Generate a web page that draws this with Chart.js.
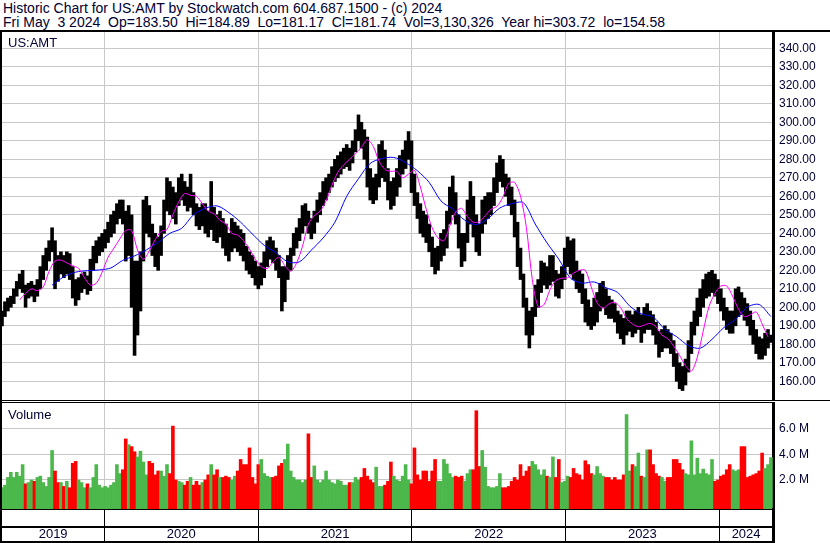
<!DOCTYPE html>
<html>
<head>
<meta charset="utf-8">
<title>Historic Chart for US:AMT</title>
<script src="https://cdn.jsdelivr.net/npm/chart.js@4.4.1/dist/chart.umd.min.js"></script>
<style>
  body { margin: 0; background: #fff; }
  #wrap { position: relative; width: 830px; height: 543px; overflow: hidden; background: #fff;
          font-family: "Liberation Sans", Arial, sans-serif; color: #000033; }
  canvas { position: absolute; left: 0; }
  #price { top: 32px; }
  #volume { top: 403px; }
  .txt { position: absolute; white-space: pre; }
  .hdr { left: 3px; font-size: 14px; line-height: 14px; }
  .lbl { left: 8px; font-size: 13px; line-height: 13px; }
  .ln { position: absolute; background: #000; z-index: 2; }
</style>
</head>
<body>
<div id="wrap">
  <div class="txt hdr" style="top:1px">Historic Chart for US:AMT by Stockwatch.com 604.687.1500 - (c) 2024</div>
  <div class="txt hdr" style="top:15px">Fri May  3 2024  Op=183.50  Hi=184.89  Lo=181.17  Cl=181.74  Vol=3,130,326  Year hi=303.72  lo=154.58</div>

  <canvas id="price" width="830" height="368"></canvas>
  <canvas id="volume" width="830" height="139"></canvas>

  <div class="txt lbl" style="top:36px; z-index:3">US:AMT</div>
  <div class="txt lbl" style="top:408px; z-index:3">Volume</div>

  <!-- frame lines -->
  <div class="ln" style="left:0; top:30px; width:830px; height:2px"></div>
  <div class="ln" style="left:0; top:30px; width:2px; height:512px"></div>
  <div class="ln" style="left:0; top:400px; width:830px; height:1px"></div>
  <div class="ln" style="left:0; top:402px; width:775px; height:1px"></div>
  <div class="ln" style="left:0; top:526px; width:775px; height:2px"></div>
  <div class="ln" style="left:0; top:541px; width:775px; height:2px"></div>
  <div class="ln" style="left:772px; top:508px; width:3px; height:35px"></div>
</div>

<script>
// weekly data, week 0 = Fri May 3 2019
const startDate = Date.UTC(2019, 4, 3);
const years = [2019, 2020, 2021, 2022, 2023, 2024];
const lastWeek = 261;

const weekLow = [
  190,195,198,200,202,206,210,208,200,205, 206,203,206,210,215,220,225,230,210,214,
  218,216,218,215,205,201,204,208,210,207, 209,220,224,228,230,232,235,238,240,245,
  248,245,225,228,200,174,185,198,225,240, 238,228,222,220,228,240,252,250,248,245,
  255,258,255,252,254,250,244,242,244,240, 238,242,236,235,238,232,228,225,230,232,
  230,228,225,220,218,216,212,210,212,216, 222,226,224,220,216,198,203,215,220,228,
  232,236,240,244,240,237,240,246,250,255, 258,262,265,268,270,272,275,276,274,278,
  284,290,286,280,265,258,256,258,265,270, 268,258,253,255,260,265,272,275,280,262,
  255,248,240,238,235,230,222,218,220,225, 228,232,245,250,245,232,222,225,235,245,
  238,230,228,240,245,248,250,255,262,268, 265,260,255,250,238,222,215,200,185,178,
  185,195,200,208,212,210,212,214,206,205, 210,215,222,218,215,210,208,202,192,190,
  188,190,192,198,200,196,194,194,192,186, 183,180,185,187,184,186,188,181,186,188,
  188,185,180,173,176,178,178,175,168,160, 156,155,158,165,175,185,190,195,200,205,
  206,208,206,202,198,193,188,186,186,190, 195,196,193,190,185,180,175,172,172,174,
  178,181
];
const weekHigh = [
  198,203,205,206,210,214,218,220,212,213, 214,212,215,222,228,232,236,243,236,228,
  230,228,230,229,222,215,216,218,219,217, 226,233,236,238,240,242,246,250,252,256,
  258,258,252,255,250,225,225,230,258,260, 255,245,240,238,244,258,270,268,265,262,
  270,272,268,265,272,262,256,254,256,256, 252,268,254,250,252,248,245,240,248,246,
  244,242,240,233,230,228,225,222,224,230, 236,238,236,232,228,222,222,228,232,240,
  243,248,255,256,252,248,252,258,262,268, 270,272,276,280,282,284,286,288,286,290,
  296,304,300,296,292,275,270,272,288,290, 285,275,268,270,275,282,285,290,295,290,
  272,262,256,252,250,245,238,232,233,240, 242,252,265,271,262,250,240,240,258,268,
  260,250,245,258,260,262,262,270,278,282, 280,272,270,265,258,246,232,218,205,198,
  200,212,215,225,224,222,228,228,220,218, 222,232,238,236,237,225,220,218,210,204,
  200,205,208,213,214,210,206,204,202,198, 196,194,198,198,196,198,200,196,200,202,
  198,196,192,187,188,190,188,186,182,175, 170,168,172,182,192,198,205,210,215,218,
  219,220,218,215,210,205,200,198,198,210, 211,208,205,202,198,193,188,184,183,186,
  188,185
];

// weekly peak daily volume, millions
const volume = [
  1.4,1.6,2.2,2.6,2.2,2.6,2.3,3.2,1.7,1.8, 2.0,1.9,2.2,2.3,1.8,1.5,2.2,4.3,2.7,1.8,
  1.8,1.5,1.9,1.4,3.3,3.45,2.0,1.8,1.4,1.7, 1.4,2.2,3.2,1.6,1.4,1.5,1.4,1.6,1.8,3.2,
  2.5,2.8,5.2,4.75,4.6,4.2,3.8,4.25,3.4,2.4, 3.45,3.3,2.4,2.7,2.7,2.3,3.2,2.5,6.2,2.0,
  1.9,1.8,1.6,1.9,2.2,1.6,1.9,1.6,1.8,2.0, 2.4,3.2,2.4,2.8,2.2,2.2,2.3,2.2,2.0,2.3,
  2.7,3.6,3.2,3.2,4.5,2.2,1.7,3.2,3.6,2.5, 2.3,2.2,2.2,2.3,3.1,3.3,3.6,4.8,2.7,2.2,
  2.0,2.0,1.8,2.0,5.6,2.2,3.1,2.0,1.8,2.0, 2.7,2.0,1.8,1.7,2.0,1.9,1.6,1.6,1.8,1.8,
  2.2,2.0,2.2,2.9,2.3,2.0,1.8,3.0,1.5,1.5, 1.6,1.9,3.4,2.3,2.0,1.9,2.3,3.2,2.0,1.7,
  4.5,2.4,2.0,2.7,2.7,1.9,2.7,3.6,1.9,1.9, 3.6,3.25,2.5,2.2,2.3,2.2,2.3,1.9,2.5,2.8,
  2.8,7.4,3.05,4.3,3.0,1.5,1.4,1.4,1.5,2.5, 1.4,1.4,1.5,1.9,2.2,2.0,3.2,2.3,2.7,3.05,
  3.45,3.2,2.8,2.4,2.8,2.3,2.2,3.8,2.2,3.6, 1.8,1.9,2.3,2.2,2.9,2.5,2.4,2.0,3.5,3.2,
  2.5,2.4,3.05,2.5,2.3,2.2,2.2,2.0,2.2,2.0, 2.0,2.4,7.1,2.7,3.2,3.05,4.1,2.3,2.2,4.35,
  4.35,3.2,2.5,2.3,2.2,1.9,2.2,2.2,3.6,3.6, 3.3,2.8,2.5,2.4,5.05,2.4,3.7,2.5,2.85,2.5,
  2.4,3.6,1.9,2.0,2.3,2.4,2.8,3.2,2.8,2.7, 2.8,4.6,4.6,2.2,2.3,2.4,2.5,2.7,4.1,2.9,
  3.2,3.75
];

// short moving average (magenta), every 2 weeks from week 6
const maFastStart = 6, maFastStep = 2;
const maFast = [
  204,207.5,210,209,211,219.5,225,225.5,224,222.5, 221,216,212,213,219,227,232,237,241.5,241.5,
  231,226,230.5,236.5,241,242,250,257,261.5,260.5, 260,256,252,250.5,247,245,240,239,236,231.5,
  226,222,221,224.5,227,222.5,219.5,224,233,245, 249.5,252,257.5,266,273,277,280,283,286.5,290.5,
  287,279,274.5,273.5,273.5,270,272,274,265,253, 243,237.5,236,244,251.5,253.5,249,246,246.3,249.5,
  253,254.5,259.5,267,267.5,260,243,215,200.4,201.5, 209.5,214.5,215.7,216,218.5,220,220,211,202.5,199.5,
  201.8,202.7,199.8,194,191,189.5,190.4,191.3,189.5,185, 183,179,174,168.5,165.5,173,187,200.5,207.5,211.5,
  211.5,206,199,195,196,197.5,191,184
];
// long moving average (blue), every 4 weeks from week 17
const maSlowStart = 17, maSlowStep = 4;
const maSlow = [
  212,216.5,219,219.8,220.2,221.3,225.4,227.8,231,235.2, 240,242.7,250,253.5,254.8,251.2,246,239.6,233.5,229.5,
  224.6,224.6,230.9,237.5,246,260,269.5,277.8,280.4,281, 278.2,273.8,267.5,257.5,253,247.2,244.7,248,253.7,256,
  256.5,245,234.8,226,215.7,213.1,213.7,210.6,208,200.8, 196.5,194.8,188.1,184.1,179.3,177.9,182.7,189,193.5,200.1,
  201.5,195
];

const priceTicks = [160,170,180,190,200,210,220,230,240,250,260,270,280,290,300,310,320,330,340];
const volumeTicks = [2, 4, 6];

const FONT = '"Liberation Sans", Arial, sans-serif';
const TXT = '#000033';
const GRID = '#c8c8c8';
const xMax = lastWeek + 0.7;
const weekOf = y => (Date.UTC(y, 0, 1) - startDate) / (7 * 86400000);
const yearStarts = years.slice(1).map(weekOf);
const yearMids = years.map((y, i) => {
  const a = Math.max(0, weekOf(y));
  const b = Math.min(xMax, i < years.length - 1 ? weekOf(y + 1) : xMax);
  return (a + b) / 2;
});

const noPad = s => { s.width = 57; s.paddingTop = 0; s.paddingBottom = 0; };

// price panel
new Chart(document.getElementById('price'), {
  type: 'bar',
  data: {
    datasets: [
      { type: 'line', data: maFast.map((v, i) => ({ x: maFastStart + i * maFastStep, y: v })),
        borderColor: '#ff00ff', borderWidth: 1, pointRadius: 0, tension: 0.3, order: 1 },
      { type: 'line', data: maSlow.map((v, i) => ({ x: maSlowStart + i * maSlowStep, y: v })),
        borderColor: '#0000ff', borderWidth: 1, pointRadius: 0, tension: 0.3, order: 1 },
      { data: weekLow.map((lo, i) => ({ x: i, y: [lo, weekHigh[i]] })),
        backgroundColor: '#000', barPercentage: 1, categoryPercentage: 1, order: 2 }
    ]
  },
  options: {
    responsive: false, animation: false,
    layout: { padding: { left: 2, right: 0, top: 0, bottom: 0 } },
    plugins: { legend: { display: false }, tooltip: { enabled: false } },
    scales: {
      x: {
        type: 'linear', min: 0, max: xMax, offset: false,
        grid: { color: GRID, drawTicks: false, offset: false },
        border: { display: false },
        ticks: { display: false },
        afterBuildTicks: s => { s.ticks = yearStarts.map(v => ({ value: v })); },
        afterFit: s => { s.height = 0; }
      },
      y: {
        position: 'right', min: 149.9, max: 348.8,
        grid: { color: GRID, drawTicks: false },
        border: { color: '#000', width: 3 },
        ticks: { padding: 6, color: TXT, font: { family: FONT, size: 12 },
                 callback: v => v.toFixed(2) },
        afterBuildTicks: s => { s.ticks = priceTicks.map(v => ({ value: v })); },
        afterFit: noPad
      }
    }
  }
});

// volume panel, coloured by weekly direction
const mids = weekLow.map((lo, i) => (lo + weekHigh[i]) / 2);
const volColors = mids.map((m, i) => i === 0 || m >= mids[i - 1] ? '#4cb84c' : '#ff0000');
const volMin = -0.26;
const isStart = t => t && yearStarts.includes(t.value);

new Chart(document.getElementById('volume'), {
  type: 'bar',
  data: {
    datasets: [{
      data: volume.map((v, i) => ({ x: i, y: v })),
      backgroundColor: volColors, base: volMin,
      barPercentage: 1, categoryPercentage: 1
    }]
  },
  options: {
    responsive: false, animation: false,
    layout: { padding: { left: 2, right: 0, top: 0, bottom: 0 } },
    plugins: { legend: { display: false }, tooltip: { enabled: false } },
    scales: {
      x: {
        type: 'linear', min: 0, max: xMax, offset: false,
        grid: {
          offset: false, tickLength: 33,
          color: c => isStart(c.tick) ? GRID : 'rgba(0,0,0,0)',
          tickColor: c => isStart(c.tick) ? '#000' : 'rgba(0,0,0,0)'
        },
        border: { color: '#000', width: 2 },
        ticks: {
          autoSkip: false, maxRotation: 0, padding: -15, color: TXT,
          font: { family: FONT, size: 13 },
          callback: v => { const k = yearMids.indexOf(v); return k >= 0 ? String(years[k]) : ''; }
        },
        afterBuildTicks: s => {
          s.ticks = yearStarts.concat(yearMids).sort((a, b) => a - b).map(v => ({ value: v }));
        },
        afterFit: s => { s.height = 33; }
      },
      y: {
        position: 'right', min: volMin, max: 8.0,
        grid: { color: GRID, drawTicks: false },
        border: { color: '#000', width: 3 },
        ticks: { padding: 6, color: TXT, font: { family: FONT, size: 12 },
                 callback: v => v.toFixed(1) + ' M' },
        afterBuildTicks: s => { s.ticks = volumeTicks.map(v => ({ value: v })); },
        afterFit: noPad
      }
    }
  }
});
</script>
</body>
</html>
